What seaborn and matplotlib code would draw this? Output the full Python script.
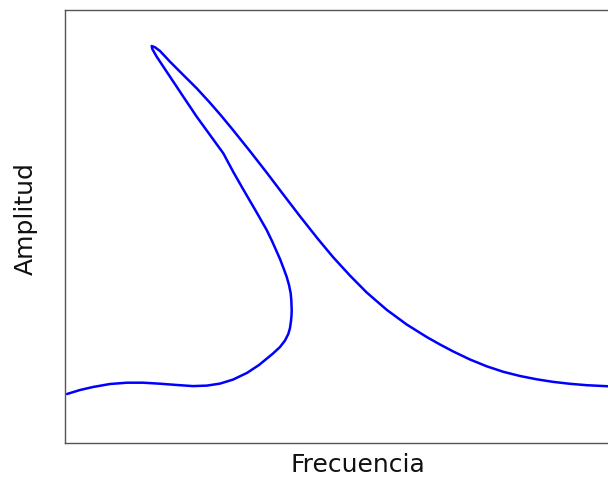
import matplotlib
matplotlib.use("Agg")
import matplotlib.pyplot as plt
import seaborn as sns
import pandas as pd

# Frequency response curve (arbitrary units)
frecuencia = [67, 80, 93, 110, 127, 143, 160, 177, 193, 207, 220, 233, 247, 259,
              273, 280, 285, 288.3, 290, 291, 291.5, 291.7, 291.3, 290.7, 289,
              286.7, 284, 280, 272, 266.7, 256.7, 243.3,
              233.3, 223.3, 210, 196.7, 183.3, 170, 156.7, 152.3, 151.7,
              155, 160, 170, 183.3, 196.7, 210, 221, 231.7, 250, 266.7, 283.3, 300,
              318.3, 333.3, 350, 366.7, 386.7, 406.7, 426.7, 440, 453.3, 470, 486.7,
              503.3, 520, 536.7, 553.3, 570, 586.7, 606.7, 630, 651]
amplitud_px = [394, 390, 387, 384, 382.7, 382.7, 383.7, 385, 386.1, 385.6, 383.6,
               379.6, 372.9, 365, 353.5, 347, 340.5, 334, 328, 321, 315.5, 310,
               300, 293.3, 285, 276.9, 269.5, 259, 241, 230, 212.5, 189.5,
               172, 153.3, 135, 116.7, 96.7, 76.7, 56.7, 49, 46,
               47.3, 51, 61.7, 75, 88.3, 102.8, 115.5, 128.4, 151.2, 172.6, 194.5,
               216.3, 239.4, 257.4, 275.6, 292.5, 309.8, 324.5, 337, 344.5, 351.5,
               359.5, 366.3, 371.8, 376, 379.3, 381.9, 383.8, 385.2, 386.2, 386.9,
               387.3]
amplitud = [480 - v for v in amplitud_px]

x_label = "Frecuencia"
y_label = "Amplitud"

df = pd.DataFrame({"f": frecuencia, "a": amplitud})

sns.set_style("white")
plt.rcParams["font.family"] = ["DejaVu Sans"]

fig = plt.figure(figsize=(6.08, 4.8), dpi=100)
ax = fig.add_axes([65 / 608, 37.5 / 480, 586 / 608, 432.5 / 480])

sns.lineplot(data=df, x="f", y="a", sort=False, estimator=None,
             color="#0000ff", linewidth=1.8, ax=ax)

ax.set_xlim(65, 651)
ax.set_ylim(37.5, 470)
ax.set_xticks([])
ax.set_yticks([])
for s in ax.spines.values():
    s.set_color("#555555")
    s.set_linewidth(1.0)

ax.set_xlabel(x_label, fontsize=18, color="#111111")
ax.set_ylabel(y_label, fontsize=18, color="#111111")
ax.xaxis.set_label_coords(0.5, -0.024)
ax.yaxis.set_label_coords(-0.046, 0.518)

fig.savefig("out.png", dpi=100)
